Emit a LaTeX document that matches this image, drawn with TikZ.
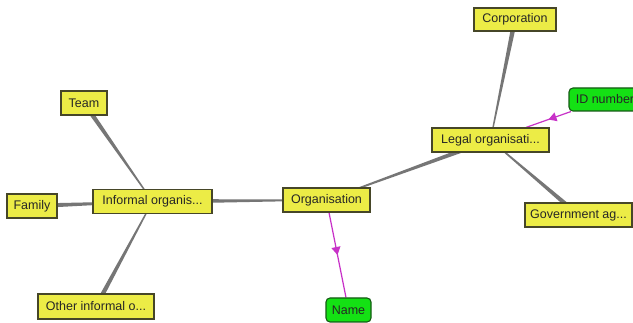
\documentclass[tikz,border=0pt]{standalone}
\usepackage{fontspec}
\setmainfont{Liberation Sans}
\usetikzlibrary{calc,backgrounds,arrows.meta,decorations.markings}

\definecolor{boxyellow}{RGB}{236,236,70}
\definecolor{boxedge}{RGB}{70,70,40}
\definecolor{attrgreen}{RGB}{20,225,20}
\definecolor{attredge}{RGB}{20,90,20}
\definecolor{linkgray}{RGB}{118,118,118}
\definecolor{attrlink}{RGB}{200,50,200}

% tapered link: wide at the first node, narrow at the second
\newcommand{\taperlink}[2]{%
  \fill[linkgray]
    ($(#1)!2.4pt!90:(#2)$) -- ($(#2)!0.5pt!-90:(#1)$) --
    ($(#2)!0.5pt!90:(#1)$) -- ($(#1)!2.4pt!-90:(#2)$) -- cycle;}

\tikzset{
  concept/.style={draw=boxedge, line width=1.1pt, fill=boxyellow,
    inner sep=0pt, align=center, text=black!85,
    font=\fontsize{12.5}{14}\selectfont},
  attribute/.style={draw=attredge, line width=1.1pt, fill=attrgreen,
    rounded corners=4pt, inner sep=0pt, align=center, text=black!85,
    font=\fontsize{12.5}{14}\selectfont},
  attrarrow/.style={draw=attrlink, line width=1.2pt,
    decoration={markings,
      mark=at position 0.5 with {\arrow{Triangle[length=8pt,width=9pt]}}},
    postaction={decorate}}
}

\begin{document}
\begin{tikzpicture}[x=1pt,y=-1pt]
  \useasboundingbox (0,0) rectangle (633,323);
  \clip (0,0) rectangle (633,323);

  % concepts
  \node[concept, minimum width=82pt, minimum height=23pt] (corp)  at (515,19.5)  {Corporation};
  \node[concept, minimum width=117pt, minimum height=24pt] (legal) at (490.5,140) {Legal organisati...};
  \node[concept, minimum width=107pt, minimum height=24pt] (gov)   at (578.5,215) {Government ag...};
  \node[concept, minimum width=87pt, minimum height=24pt]  (org)   at (326.5,200) {Organisation};
  \node[concept, minimum width=119pt, minimum height=24pt] (inf)   at (152.5,201.5) {Informal organis...};
  \node[concept, minimum width=50pt, minimum height=24pt]  (fam)   at (32,206)    {Family};
  \node[concept, minimum width=46pt, minimum height=24pt]  (team)  at (84,103)    {Team};
  \node[concept, minimum width=116pt, minimum height=25pt] (other) at (96,306.5)  {Other informal o...};

  % attributes
  \node[attribute, minimum width=72pt, minimum height=23pt] (id)   at (605,99.5) {ID number};
  \node[attribute, minimum width=45pt, minimum height=24pt] (name) at (348.5,310) {Name};

  \begin{pgfonlayer}{background}
    \fill[white] (0,0) rectangle (633,323);
    % hierarchy links
    \taperlink{team}{inf}
    \taperlink{fam}{inf}
    \taperlink{other}{inf}
    \taperlink{inf}{org}
    \taperlink{legal}{org}
    \taperlink{corp}{legal}
    \taperlink{gov}{legal}
    % attribute links
    \draw[attrarrow] (org) -- (name);
    \draw[attrarrow] (id) -- (legal);
  \end{pgfonlayer}
\end{tikzpicture}
\end{document}
